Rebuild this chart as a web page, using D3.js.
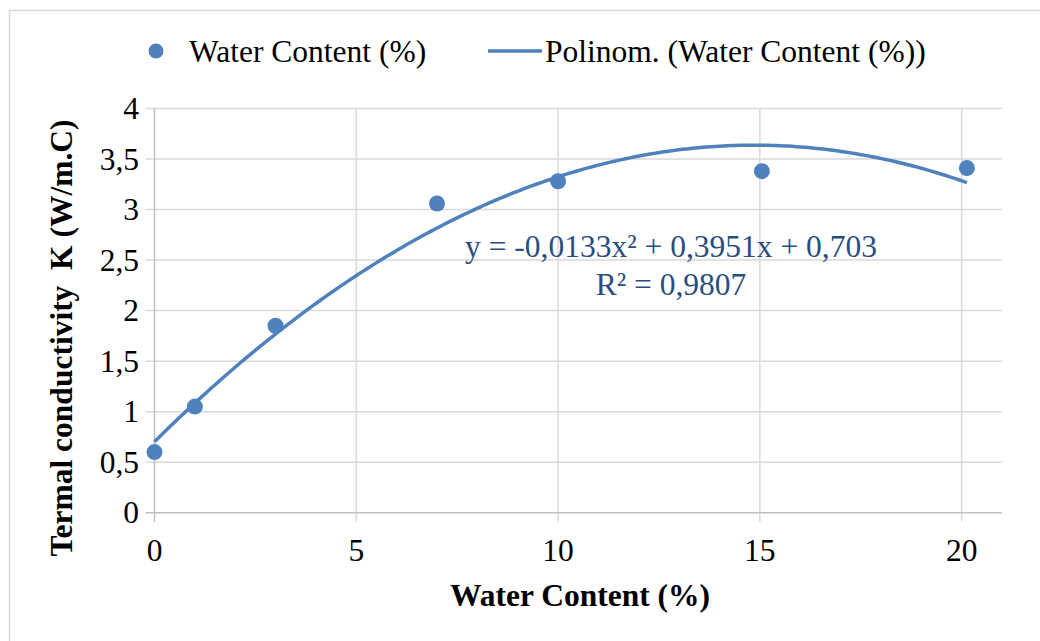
<!DOCTYPE html>
<html>
<head>
<meta charset="utf-8">
<script src="https://cdn.jsdelivr.net/npm/d3@7"></script>
<style>
  body { margin: 0; background: #fff; }
  text { font-family: "Liberation Serif", "Times New Roman", serif; }
</style>
</head>
<body>
<script>
// Measured points (water content %, conductivity W/m.C)
const waterContent = [0, 1, 3, 7, 10, 15.05, 20.13];
const conductivity = [0.6, 1.05, 1.85, 3.06, 3.28, 3.38, 3.41];

// Trendline coefficients as printed on the chart: a2, a1, a0
const polyCoef = [-0.0133, 0.3951, 0.703];
const eqLines = ['y = -0,0133x² + 0,3951x + 0,703', 'R² = 0,9807'];

const xTicks = [0, 5, 10, 15, 20];
const yTicks = [0, 0.5, 1, 1.5, 2, 2.5, 3, 3.5, 4];

const width = 1040, height = 641;
const blue = '#4f81bd';
const serif = '"Liberation Serif", "Times New Roman", serif';

const svg = d3.select('body').append('svg')
    .attr('width', width)
    .attr('height', height)
    .attr('font-family', serif);

// chart area border
svg.append('rect')
    .attr('x', 9.5).attr('y', 10.5)
    .attr('width', 1040).attr('height', 640)
    .attr('fill', 'none')
    .attr('stroke', '#d9d9d9')
    .attr('stroke-width', 1.5);

const x = d3.scaleLinear().domain([0, 21]).range([154.5, 1002]);
const y = d3.scaleLinear().domain([0, 4]).range([512.7, 108.5]);

// grid lines
svg.append('g').selectAll('line').data(yTicks.slice(1)).enter().append('line')
    .attr('x1', x(0) - 9).attr('x2', x(21))
    .attr('y1', d => y(d)).attr('y2', d => y(d))
    .attr('stroke', '#d9d9d9').attr('stroke-width', 1.5);

svg.append('g').selectAll('line').data(xTicks.slice(1)).enter().append('line')
    .attr('x1', d => x(d)).attr('x2', d => x(d))
    .attr('y1', y(4)).attr('y2', y(0) + 9)
    .attr('stroke', '#d9d9d9').attr('stroke-width', 1.5);

// axes lines
svg.append('line')
    .attr('x1', x(0) - 9).attr('x2', x(21))
    .attr('y1', y(0)).attr('y2', y(0))
    .attr('stroke', '#bfbfbf').attr('stroke-width', 1.5);
svg.append('line')
    .attr('x1', x(0)).attr('x2', x(0))
    .attr('y1', y(4)).attr('y2', y(0) + 9)
    .attr('stroke', '#bfbfbf').attr('stroke-width', 1.5);

// tick labels
const fmt = d => String(d).replace('.', ',');
svg.append('g').selectAll('text').data(yTicks).enter().append('text')
    .attr('x', 139).attr('y', d => y(d))
    .attr('dy', '0.34em')
    .attr('text-anchor', 'end')
    .attr('font-size', 31.5)
    .text(fmt);

svg.append('g').selectAll('text').data(xTicks).enter().append('text')
    .attr('x', d => x(d)).attr('y', 561)
    .attr('text-anchor', 'middle')
    .attr('font-size', 31.5)
    .text(fmt);

// axis titles
svg.append('text')
    .attr('x', 580).attr('y', 606)
    .attr('text-anchor', 'middle')
    .attr('font-size', 31.5).attr('font-weight', 'bold')
    .text('Water Content (%)');

svg.append('text')
    .attr('transform', 'translate(72,338) rotate(-90)')
    .attr('text-anchor', 'middle')
    .attr('font-size', 31.5).attr('font-weight', 'bold')
    .style('white-space', 'pre')
    .text('Termal conductivity  K (W/m.C)');

// trendline over the data range
const xs = d3.range(0, 201).map(i => d3.max(waterContent) * i / 200);
const poly = v => polyCoef[0] * v * v + polyCoef[1] * v + polyCoef[2];
const line = d3.line()
    .x(d => x(d))
    .y(d => y(poly(d)));

svg.append('path')
    .datum(xs)
    .attr('fill', 'none')
    .attr('stroke', blue)
    .attr('stroke-width', 3.5)
    .attr('d', line);

// points
svg.append('g').selectAll('circle').data(waterContent).enter().append('circle')
    .attr('cx', d => x(d))
    .attr('cy', (d, i) => y(conductivity[i]))
    .attr('r', 8)
    .attr('fill', blue);

// equation label
svg.append('g').selectAll('text').data(eqLines).enter().append('text')
    .attr('x', 671).attr('y', (d, i) => 257 + i * 38)
    .attr('text-anchor', 'middle')
    .attr('font-size', 31.5)
    .attr('fill', '#2a4d80')
    .text(d => d);

// legend
const legend = svg.append('g');
legend.append('circle')
    .attr('cx', 156).attr('cy', 51).attr('r', 7.5)
    .attr('fill', blue);
legend.append('text')
    .attr('x', 189).attr('y', 62)
    .attr('font-size', 31.5)
    .text('Water Content (%)');
legend.append('line')
    .attr('x1', 488).attr('x2', 542)
    .attr('y1', 51).attr('y2', 51)
    .attr('stroke', blue).attr('stroke-width', 3.5);
legend.append('text')
    .attr('x', 545).attr('y', 62)
    .attr('font-size', 31.5)
    .text('Polinom. (Water Content (%))');
</script>
</body>
</html>
